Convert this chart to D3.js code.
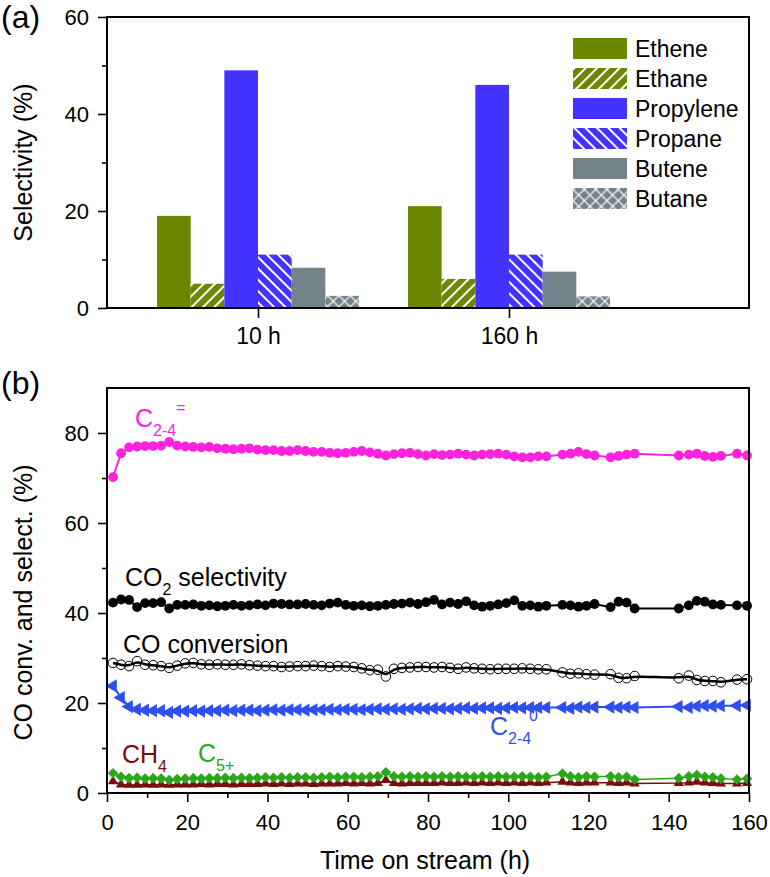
<!DOCTYPE html>
<html>
<head>
<meta charset="utf-8">
<script src="https://cdn.jsdelivr.net/npm/d3@7"></script>
<style>
  body { margin: 0; background: #fff; }
  text { font-family: "Liberation Sans", Arial, sans-serif; }
</style>
</head>
<body>
<div id="chart"></div>
<script>
// ---- panel (a) data ----
var groups = ["10 h", "160 h"];
var species = ["Ethene", "Ethane", "Propylene", "Propane", "Butene", "Butane"];
var sel10h = [19.0, 5.0, 49.0, 11.0, 8.3, 2.5];
var sel160h = [21.0, 6.0, 46.0, 11.0, 7.5, 2.4];
var selTicks = [0, 20, 40, 60];

// ---- panel (b) data ----
var times = [1.5, 3.5, 5.5, 7.5, 9.5, 11.5, 13.5, 15.5, 17.5, 19.5,
  21.5, 23.5, 25.5, 27.5, 29.5, 31.5, 33.5, 35.5, 37.5, 39.5,
  41.5, 43.5, 45.5, 47.5, 49.5, 51.5, 53.5, 55.5, 57.5, 59.5,
  61.5, 63.5, 65.5, 67.5, 69.5, 71.5, 73.5, 75.5, 77.5, 79.5,
  81.5, 83.5, 85.5, 87.5, 89.5, 91.5, 93.5, 95.5, 97.5, 99.5,
  101.5, 103.5, 105.5, 107.5, 109.5,
  113.5, 115.5, 117.5, 119.5, 121.5,
  125.5, 127.5, 129.5, 131.5,
  142.5, 145, 147, 149, 151, 153,
  157, 159.5];

var olefinSel = [70.2, 75.5, 76.8, 77.0, 77.1, 77.1, 77.2, 78.0, 77.2, 77.0,
  76.9, 76.8, 76.9, 76.6, 76.5, 76.4, 76.5, 76.6, 76.3, 76.2,
  76.2, 76.0, 76.0, 76.2, 76.0, 75.8, 75.8, 75.6, 75.5, 75.6,
  75.8, 76.0, 75.7, 75.4, 75.0, 75.3, 75.5, 75.6, 75.3, 75.0,
  75.3, 75.1, 75.2, 75.4, 75.2, 75.0, 75.2, 75.3, 75.4, 75.2,
  74.8, 74.6, 74.6, 74.8, 74.8,
  75.2, 75.4, 75.8, 75.3, 75.0,
  74.6, 74.9, 75.2, 75.4,
  75.0, 75.2, 75.4, 74.9, 74.7, 74.9,
  75.4, 75.0];

var co2Sel = [42.3, 43.0, 42.9, 41.3, 42.2, 42.2, 42.4, 41.0, 41.8, 41.8,
  41.9, 41.6, 41.7, 41.5, 41.6, 41.8, 41.6, 41.7, 41.9, 41.7,
  42.1, 42.0, 41.9, 41.9, 42.0, 41.8, 41.7, 42.1, 42.3, 41.8,
  41.6, 41.7, 41.5, 41.6, 41.8, 42.0, 42.1, 42.3, 42.0, 42.4,
  42.9, 41.9, 42.3, 42.0, 42.6, 41.7, 41.4, 41.6, 41.9, 42.2,
  42.8, 41.6, 41.7, 41.4, 41.6,
  41.8, 41.7, 41.4, 41.6, 42.0,
  41.3, 42.5, 42.3, 41.0,
  41.0, 41.7, 42.7, 42.5, 41.9, 41.8,
  41.7, 41.6];

var coConv = [28.9, 28.5, 28.2, 29.3, 28.5, 28.4, 28.2, 27.8, 28.3, 28.8,
  28.9, 28.6, 28.5, 28.6, 28.5, 28.5, 28.6, 28.4, 28.3, 28.2,
  28.2, 28.0, 28.1, 28.2, 28.2, 28.3, 28.2, 28.0, 28.2, 28.1,
  28.0, 27.7, 27.3, 27.4, 25.9, 27.6, 27.8, 27.9, 28.0, 28.0,
  27.9, 28.0, 27.8, 27.6, 27.9, 27.7, 27.6, 27.5, 27.6, 27.6,
  27.6, 27.7, 27.6, 27.5, 27.5,
  26.8, 26.5, 26.6, 26.4, 26.3,
  26.4, 25.6, 25.5, 26.0,
  25.5, 26.1, 25.1, 24.9, 24.9, 24.6,
  25.2, 25.3];

var paraffinSel = [23.8, 21.2, 19.2, 18.6, 18.4, 18.3, 18.3, 17.9, 18.2, 18.2,
  18.3, 18.2, 18.3, 18.3, 18.4, 18.3, 18.4, 18.4, 18.3, 18.4,
  18.5, 18.4, 18.5, 18.5, 18.4, 18.5, 18.5, 18.6, 18.5, 18.6,
  18.6, 18.5, 18.6, 18.7, 18.6, 18.7, 18.6, 18.7, 18.8, 18.7,
  18.8, 18.8, 18.7, 18.8, 18.9, 18.8, 18.9, 18.9, 18.8, 18.9,
  19.0, 18.9, 19.0, 19.0, 19.0,
  19.0, 18.8, 19.1, 19.0, 19.1,
  19.1, 19.0, 19.1, 19.0,
  19.2, 19.0, 19.3, 19.4, 19.3, 19.4,
  19.4, 19.5];

var c5Sel = [4.4, 3.6, 3.3, 3.4, 3.2, 3.3, 3.2, 2.9, 3.1, 3.2,
  3.3, 3.2, 3.3, 3.3, 3.4, 3.3, 3.4, 3.3, 3.4, 3.5,
  3.4, 3.5, 3.4, 3.5, 3.5, 3.4, 3.5, 3.6, 3.5, 3.6,
  3.6, 3.5, 3.6, 3.7, 4.6, 3.7, 3.6, 3.7, 3.6, 3.7,
  3.6, 3.7, 3.6, 3.7, 3.6, 3.6, 3.7, 3.6, 3.7, 3.6,
  3.6, 3.7, 3.6, 3.5, 3.6,
  4.3, 3.7, 3.5, 3.7, 3.6,
  3.7, 3.5, 3.6, 3.0,
  3.3, 3.7, 4.0, 3.6, 3.5, 3.2,
  3.0, 3.2];

var ch4Sel = [2.6, 1.9, 1.8, 1.8, 1.9, 1.8, 1.9, 1.8, 1.9, 1.9,
  1.9, 2.0, 1.9, 2.0, 2.0, 1.9, 2.0, 2.0, 2.0, 2.1,
  2.0, 2.1, 2.0, 2.1, 2.1, 2.0, 2.1, 2.1, 2.1, 2.2,
  2.1, 2.2, 2.1, 2.2, 2.9, 2.2, 2.1, 2.2, 2.2, 2.2,
  2.2, 2.3, 2.2, 2.2, 2.3, 2.2, 2.3, 2.2, 2.3, 2.2,
  2.3, 2.2, 2.3, 2.2, 2.3,
  2.5, 2.3, 2.2, 2.3, 2.3,
  2.3, 2.2, 2.3, 2.1,
  2.2, 2.3, 2.5, 2.3, 2.2, 2.1,
  2.1, 2.2];

var timeTicks = [0, 20, 40, 60, 80, 100, 120, 140, 160];
var percentTicks = [0, 20, 40, 60, 80];

// ---- styles ----
var olive = "#6b8600", violet = "#4433ff", slate = "#748389";
var barFill = {
  Ethene: olive, Ethane: "url(#hatchEthane)",
  Propylene: violet, Propane: "url(#hatchPropane)",
  Butene: slate, Butane: "url(#hatchButane)"
};
var pink = "#ff22dd", blue = "#2f50ee", green = "#2aa81a", darkRed = "#7a0c0c";

var svgWidth = 770;
var svgHeight = 877;

var svg = d3.select("#chart")
  .append("svg")
  .attr("width", svgWidth)
  .attr("height", svgHeight);

svg.append("rect").attr("width", svgWidth).attr("height", svgHeight).attr("fill", "#fff");

// hatch patterns
var defs = svg.append("defs");
function hatch(id, color, angle, spacing) {
  var p = defs.append("pattern")
    .attr("id", id)
    .attr("patternUnits", "userSpaceOnUse")
    .attr("width", spacing).attr("height", spacing)
    .attr("patternTransform", "rotate(" + angle + ")");
  p.append("rect").attr("width", spacing).attr("height", spacing).attr("fill", color);
  p.append("line").attr("x1", 1).attr("y1", 0).attr("x2", 1).attr("y2", spacing)
    .attr("stroke", "#fff").attr("stroke-width", 2);
  return p;
}
hatch("hatchEthane", olive, 45, 8);
hatch("hatchPropane", violet, -45, 8);
var cross = hatch("hatchButane", slate, 45, 8);
cross.select("line").attr("stroke-width", 1.2);
cross.append("line").attr("x1", 0).attr("y1", 1).attr("x2", 8).attr("y2", 1)
  .attr("stroke", "#fff").attr("stroke-width", 1.2);

function styleAxis(g, size) {
  g.select(".domain").remove();
  g.selectAll("line").attr("stroke", "#000").attr("stroke-width", 1.6);
  g.selectAll("text").attr("font-size", size).attr("fill", "#000");
}

// ================= panel (a) =================
var widthA = 642, heightA = 291;
var chartA = svg.append("g").attr("transform", "translate(107, 17)");

var yA = d3.scaleLinear().domain([0, 60]).range([heightA, 0]);
var x0 = d3.scalePoint().domain(groups).range([151, 402]);
var x1 = d3.scaleBand().domain(species).range([-101, 101]);

var barRows = [];
groups.forEach(function(g, i) {
  var vals = i === 0 ? sel10h : sel160h;
  species.forEach(function(s, j) {
    barRows.push({ group: g, species: s, value: vals[j] });
  });
});

chartA.selectAll("rect.bar")
  .data(barRows)
  .enter()
  .append("rect")
  .attr("class", "bar")
  .attr("x", d => x0(d.group) + x1(d.species))
  .attr("y", d => yA(d.value))
  .attr("width", x1.bandwidth())
  .attr("height", d => heightA - yA(d.value))
  .attr("fill", d => barFill[d.species]);

chartA.append("g")
  .call(d3.axisLeft(yA).tickValues(selTicks).tickSize(9).tickPadding(9))
  .call(g => styleAxis(g, 22));
chartA.append("g")
  .call(d3.axisLeft(yA).tickValues([10, 30, 50]).tickSize(5).tickFormat(""))
  .call(g => styleAxis(g, 22));
chartA.append("g")
  .attr("transform", `translate(0, ${heightA})`)
  .call(d3.axisBottom(x0).tickSize(10).tickPadding(10))
  .call(g => styleAxis(g, 23));

// legend
var legend = chartA.selectAll("g.legend")
  .data(species)
  .enter()
  .append("g")
  .attr("class", "legend")
  .attr("transform", (d, i) => `translate(466, ${21 + i * 30})`);
legend.append("rect").attr("width", 54).attr("height", 21).attr("fill", d => barFill[d]);
legend.append("text").attr("x", 62).attr("y", 10.5).attr("dy", "0.36em")
  .attr("font-size", 23).text(d => d);

chartA.append("rect").attr("width", widthA).attr("height", heightA)
  .attr("fill", "none").attr("stroke", "#000").attr("stroke-width", 2);

chartA.append("text")
  .attr("transform", `translate(-75, ${heightA / 2}) rotate(-90)`)
  .attr("text-anchor", "middle").attr("font-size", 25)
  .text("Selectivity (%)");

svg.append("text").attr("x", 1).attr("y", 28).attr("font-size", 32).text("(a)");

// ================= panel (b) =================
var widthB = 642, heightB = 405;
var chartB = svg.append("g").attr("transform", "translate(107, 388)");

var xB = d3.scaleLinear().domain([0, 160]).range([0, widthB]);
var yB = d3.scaleLinear().domain([0, 90]).range([heightB, 0]);

function seriesData(vals) {
  return times.map((t, i) => ({ t: t, v: vals[i] }));
}
var line = d3.line().x(d => xB(d.t)).y(d => yB(d.v));
var smooth = d3.line().x(d => xB(d.t)).y(d => yB(d.v)).curve(d3.curveBasis);

// CH4
var ch4 = seriesData(ch4Sel);
chartB.append("path").datum(ch4).attr("d", line)
  .attr("fill", "none").attr("stroke", darkRed).attr("stroke-width", 1.5);
chartB.selectAll("path.ch4").data(ch4).enter().append("path")
  .attr("class", "ch4")
  .attr("transform", d => `translate(${xB(d.t)}, ${yB(d.v)})`)
  .attr("d", d3.symbol(d3.symbolTriangle, 45))
  .attr("fill", darkRed);

// C5+
var c5 = seriesData(c5Sel);
chartB.append("path").datum(c5).attr("d", line)
  .attr("fill", "none").attr("stroke", green).attr("stroke-width", 1.5);
chartB.selectAll("path.c5").data(c5).enter().append("path")
  .attr("class", "c5")
  .attr("transform", d => `translate(${xB(d.t)}, ${yB(d.v)}) rotate(45)`)
  .attr("d", d3.symbol(d3.symbolSquare, 56))
  .attr("fill", green);

// C2-4 paraffins
var par = seriesData(paraffinSel);
chartB.append("path").datum(par).attr("d", line)
  .attr("fill", "none").attr("stroke", blue).attr("stroke-width", 2);
chartB.selectAll("path.par").data(par).enter().append("path")
  .attr("class", "par")
  .attr("transform", d => `translate(${xB(d.t)}, ${yB(d.v)}) rotate(-90)`)
  .attr("d", d3.symbol(d3.symbolTriangle, 75))
  .attr("fill", blue);

// CO conversion
var conv = seriesData(coConv);
chartB.selectAll("circle.conv").data(conv).enter().append("circle")
  .attr("class", "conv")
  .attr("cx", d => xB(d.t)).attr("cy", d => yB(d.v)).attr("r", 4.8)
  .attr("fill", "none").attr("stroke", "#000").attr("stroke-width", 1);
chartB.append("path").datum(conv).attr("d", smooth)
  .attr("fill", "none").attr("stroke", "#000").attr("stroke-width", 2.5);

// CO2 selectivity
var co2 = seriesData(co2Sel);
chartB.append("path").datum(co2).attr("d", line)
  .attr("fill", "none").attr("stroke", "#000").attr("stroke-width", 2);
chartB.selectAll("circle.co2").data(co2).enter().append("circle")
  .attr("class", "co2")
  .attr("cx", d => xB(d.t)).attr("cy", d => yB(d.v)).attr("r", 4.9)
  .attr("fill", "#000");

// C2-4 olefins
var ole = seriesData(olefinSel);
chartB.append("path").datum(ole).attr("d", line)
  .attr("fill", "none").attr("stroke", pink).attr("stroke-width", 2);
chartB.selectAll("circle.ole").data(ole).enter().append("circle")
  .attr("class", "ole")
  .attr("cx", d => xB(d.t)).attr("cy", d => yB(d.v)).attr("r", 4.9)
  .attr("fill", pink);

// axes
chartB.append("g")
  .call(d3.axisLeft(yB).tickValues(percentTicks).tickSize(9).tickPadding(9))
  .call(g => styleAxis(g, 22));
chartB.append("g")
  .call(d3.axisLeft(yB).tickValues([10, 30, 50, 70]).tickSize(5).tickFormat(""))
  .call(g => styleAxis(g, 22));
chartB.append("g")
  .attr("transform", `translate(0, ${heightB})`)
  .call(d3.axisBottom(xB).tickValues(timeTicks).tickSize(9).tickPadding(12))
  .call(g => styleAxis(g, 22));
chartB.append("g")
  .attr("transform", `translate(0, ${heightB})`)
  .call(d3.axisBottom(xB).tickValues([10, 30, 50, 70, 90, 110, 130, 150]).tickSize(5).tickFormat(""))
  .call(g => styleAxis(g, 22));

chartB.append("rect").attr("width", widthB).attr("height", heightB)
  .attr("fill", "none").attr("stroke", "#000").attr("stroke-width", 2);

chartB.append("text")
  .attr("transform", `translate(-75, ${heightB / 2 + 12}) rotate(-90)`)
  .attr("text-anchor", "middle").attr("font-size", 25)
  .text("CO conv. and select. (%)");

chartB.append("text")
  .attr("x", widthB / 2 - 3).attr("y", heightB + 76)
  .attr("text-anchor", "middle").attr("font-size", 25)
  .text("Time on stream (h)");

svg.append("text").attr("x", 1).attr("y", 394).attr("font-size", 32).text("(b)");

// series annotations (main text, subscript, optional superscript)
function note(x, y, color, main, sub, sup, supX, rest) {
  var t = svg.append("text").attr("x", x).attr("y", y).attr("fill", color).attr("font-size", 25);
  t.append("tspan").text(main);
  t.append("tspan").attr("font-size", 16).attr("dy", 9).text(sub);
  if (rest) t.append("tspan").attr("dy", -9).text(rest);
  if (sup) {
    svg.append("text").attr("x", supX).attr("y", y - 14).attr("fill", color)
      .attr("font-size", 16).text(sup);
  }
}
note(135, 427, pink, "C", "2-4", "=", 176);
note(125, 586, "#000", "CO", "2", null, 0, " selectivity");
svg.append("text").attr("x", 123).attr("y", 653).attr("font-size", 25).text("CO conversion");
note(490, 735, blue, "C", "2-4", "0", 529);
note(122, 763, darkRed, "CH", "4");
note(198, 762, green, "C", "5+");
</script>
</body>
</html>
